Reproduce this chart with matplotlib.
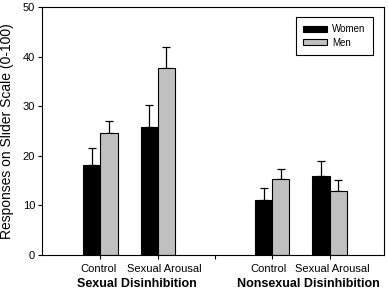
import matplotlib
matplotlib.use('Agg')
import matplotlib.pyplot as plt
import numpy as np

plt.rcParams['font.family'] = ['Liberation Sans', 'DejaVu Sans']

conditions = ['Control', 'Sexual Arousal', 'Control', 'Sexual Arousal']
groups = ['Sexual Disinhibition', 'Nonsexual Disinhibition']
women = [18.1, 25.9, 11.0, 16.0]
women_err = [3.5, 4.3, 2.5, 2.9]
men = [24.6, 37.7, 15.4, 12.9]
men_err = [2.5, 4.3, 2.0, 2.3]


def main():
	fig = plt.figure(figsize=(3.88, 2.93), dpi=100)
	ax = fig.add_axes([0.1082, 0.1297, 0.8814, 0.8464])

	pos = np.array([1, 2, 4, 5])
	width = 0.3
	ax.bar(pos - width/2., women, width, color='black', edgecolor='black', linewidth=0.8, label='Women', zorder=2)
	ax.bar(pos + width/2., men, width, color='#c0c0c0', edgecolor='black', linewidth=0.8, label='Men', zorder=2)
	ax.errorbar(pos - width/2., women, yerr=[np.zeros(4), women_err], fmt='none', ecolor='black', elinewidth=0.9, capsize=3, capthick=0.9, zorder=1)
	ax.errorbar(pos + width/2., men, yerr=[np.zeros(4), men_err], fmt='none', ecolor='black', elinewidth=0.9, capsize=3, capthick=0.9, zorder=1)

	ax.set_xlim(-0.02, 5.95)
	ax.set_ylim(0, 50)
	ax.set_yticks([0, 10, 20, 30, 40, 50])
	ax.set_xticks([1, 2, 3, 4, 5])
	ax.set_xticklabels([])
	ax.tick_params(axis='y', labelsize=8, length=3, width=0.8, pad=2)
	ax.tick_params(axis='x', length=3, width=0.8)
	for s in ax.spines.values():
		s.set_linewidth(0.8)
	ax.set_ylabel('Responses on Slider Scale (0-100)', fontsize=10, labelpad=6)

	# labels are a bit off the tick centres in the original
	shift = [-0.03, 0.11, -0.07, 0.05]
	xt = ax.get_xaxis_transform()
	for x, d, c in zip(pos, shift, conditions):
		ax.text(x + d, -0.055, c, transform=xt, ha='center', va='center', fontsize=8)
	for x, g in zip([1.63, 4.63], groups):
		ax.text(x, -0.115, g, transform=xt, ha='center', va='center', fontsize=9, fontweight='bold')

	leg = ax.legend(loc='upper right', bbox_to_anchor=(0.968, 0.96), fontsize=7, frameon=True, fancybox=False,
		edgecolor='black', framealpha=1, borderaxespad=0, handlelength=2.5, handleheight=0.6, labelspacing=0.35,
		handletextpad=0.5, borderpad=0.75)
	leg.get_frame().set_linewidth(0.8)

	fig.savefig('out.png', dpi=100)


if __name__ == '__main__':
	main()
